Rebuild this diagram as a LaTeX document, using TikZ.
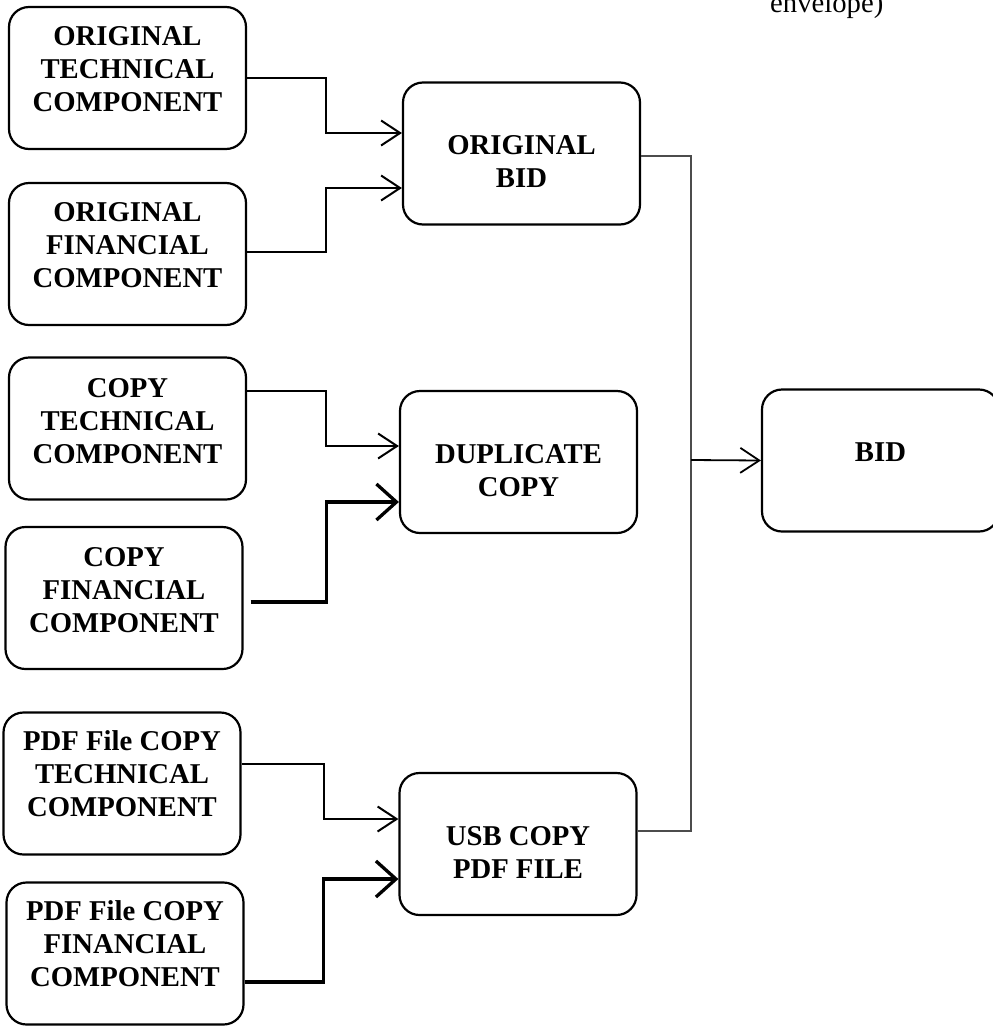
\documentclass[tikz,border=0pt]{standalone}
\usepackage{fontspec}
\setmainfont{Liberation Serif}
\usetikzlibrary{arrows.meta}
\begin{document}
\begin{tikzpicture}[x=1pt,y=-1pt,
  box/.style={draw=black,line width=2.2pt,rounded corners=20pt,minimum width=237pt,minimum height=142pt,inner sep=0pt},
  lbl/.style={font=\fontsize{28.7}{33}\selectfont\bfseries,align=center,inner sep=0pt},
  conn/.style={draw=black,line width=2pt,-{Straight Barb[length=19pt,width=25pt,line width=2pt]}},
  thickconn/.style={draw=black,line width=3.3pt,-{Straight Barb[length=20pt,width=36pt,line width=3.3pt]}},
  outl/.style={draw=black!70,line width=1.1pt}]
\useasboundingbox (0,0) rectangle (993,1026);
\fill[white] (0,0) rectangle (993,1026);
% left column
\node[box] (t1) at (127.5,78) {};
\node[lbl] (t1l) at (127.5,69) {ORIGINAL\\TECHNICAL\\COMPONENT};
\node[box] (t2) at (127.5,254) {};
\node[lbl] (t2l) at (127.5,245.5) {ORIGINAL\\FINANCIAL\\COMPONENT};
\node[box] (t3) at (127.5,428.5) {};
\node[lbl] (t3l) at (127.5,421) {COPY\\TECHNICAL\\COMPONENT};
\node[box] (t4) at (124,598) {};
\node[lbl] (t4l) at (124,590.5) {COPY\\FINANCIAL\\COMPONENT};
\node[box] (t5) at (122,783.5) {};
\node[lbl] (t5l) at (122,773.5) {PDF File COPY\\TECHNICAL\\COMPONENT};
\node[box] (t6) at (125,953.5) {};
\node[lbl] (t6l) at (125,944) {PDF File COPY\\FINANCIAL\\COMPONENT};
% middle column
\node[box] (ob) at (521.5,153.5) {};
\node[lbl] (obl) at (521.5,162) {ORIGINAL\\BID};
\node[box] (dc) at (518.5,462) {};
\node[lbl] (dcl) at (518.5,471) {DUPLICATE\\COPY};
\node[box] (usb) at (518,844) {};
\node[lbl] (usbl) at (518,853) {USB COPY\\PDF FILE};
% right
\node[box] (bid) at (880.5,460.5) {};
\node[lbl] (bidl) at (880.5,452.5) {BID};
% partial text at top
\node[anchor=base west,inner sep=0pt,font=\fontsize{28.7}{33}\selectfont] (env) at (770,12) {envelope)};
% connectors
\draw[conn] (t1.east) -- ++(79,0) |- ([yshift=20.5pt]ob.west);
\draw[conn] ([yshift=2pt]t2.east) -- ++(79,0) |- ([yshift=-34.5pt]ob.west);
\draw[conn] ([yshift=37.5pt]t3.east) -- ++(79,0) |- ([yshift=16pt]dc.west);
\draw[thickconn] ([xshift=7pt,yshift=-4pt]t4.east) -- ++(76,0) |- ([yshift=-40pt]dc.west);
\draw[conn] ([yshift=19.5pt]t5.east) -- ++(82,0) |- ([yshift=25pt]usb.west);
\draw[thickconn] ([yshift=-28.5pt]t6.east) -- ++(79,0) |- ([yshift=-35pt]usb.west);
\coordinate (j) at (691,460);
\draw[outl] ([yshift=-2.5pt]ob.east) -| (j);
\draw[outl] ([yshift=13pt]usb.east) -| (j);
\draw[draw=black,line width=1.8pt,-{Straight Barb[length=19pt,width=25pt,line width=1.8pt]}] (j) -- (bid.west);
\end{tikzpicture}
\end{document}
